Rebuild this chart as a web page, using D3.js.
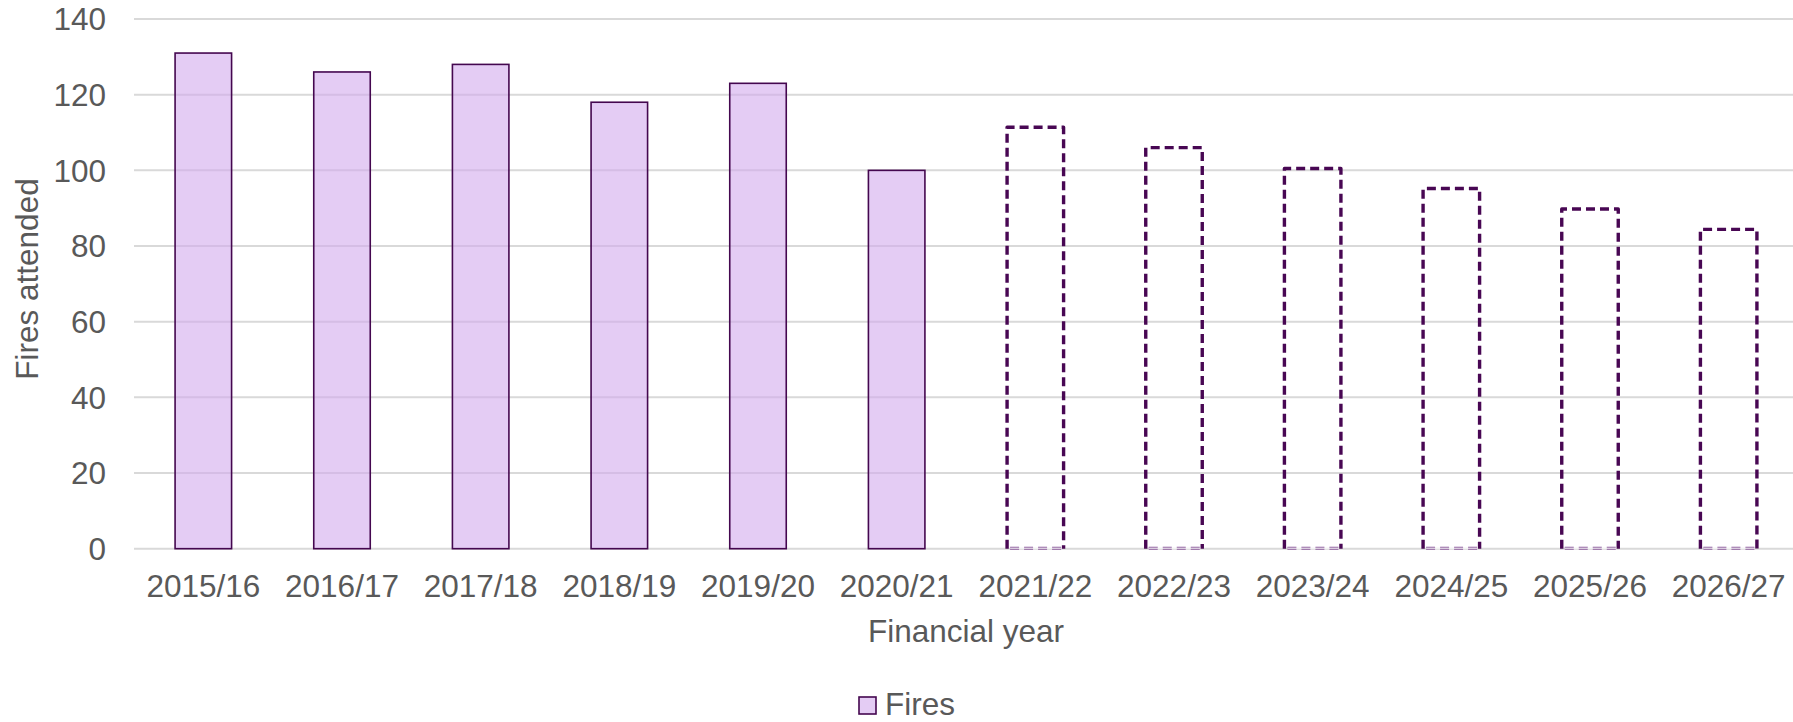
<!DOCTYPE html>
<html>
<head>
<meta charset="utf-8">
<script src="https://cdn.jsdelivr.net/npm/d3@7"></script>
<style>
	body { margin: 0; background: #fff; }
	svg { display: block; font-family: "Liberation Sans", Arial, sans-serif; }
	.tick-label { fill: #595959; font-size: 31.5px; }
</style>
</head>
<body>
<svg id="chart" width="1793" height="722"></svg>
<script>
"use strict";

// Financial years on the x axis
var years = ["2015/16", "2016/17", "2017/18", "2018/19", "2019/20", "2020/21",
	"2021/22", "2022/23", "2023/24", "2024/25", "2025/26", "2026/27"];
// Fires attended, actual years then projected years (projected drawn dashed)
var fires = [131, 126, 128, 118, 123, 100, 111.4, 106, 100.5, 95.2, 89.8, 84.4];
var projected = [false, false, false, false, false, false, true, true, true, true, true, true];
var yTicks = [0, 20, 40, 60, 80, 100, 120, 140];

var svg = d3.select("#chart");
var margin = {top: 19, left: 134, right: 1798, bottom: 548.7};

var x = d3.scaleBand()
	.domain(years)
	.range([margin.left, margin.right])
	.paddingInner(0.5925)
	.paddingOuter(0.5925 / 2);
var y = d3.scaleLinear()
	.domain([0, 140])
	.range([margin.bottom, margin.top]);

// Horizontal grid lines
svg.append("g").selectAll("line")
	.data(yTicks)
	.enter()
	.append("line")
	.attr("x1", margin.left)
	.attr("x2", margin.right)
	.attr("y1", function(d) { return y(d); })
	.attr("y2", function(d) { return y(d); })
	.attr("stroke", "#d9d9d9")
	.attr("stroke-width", 2);

// Y axis tick labels
svg.append("g").selectAll("text")
	.data(yTicks)
	.enter()
	.append("text")
	.attr("class", "tick-label")
	.attr("x", 106)
	.attr("y", function(d) { return y(d); })
	.attr("dy", "0.36em")
	.attr("text-anchor", "end")
	.text(function(d) { return d; });

var data = years.map(function(d, i) { return {year: d, value: fires[i], projected: projected[i]}; });

// Actual years: filled bars
svg.append("g").selectAll("rect")
	.data(data.filter(function(d) { return !d.projected; }))
	.enter()
	.append("rect")
	.attr("x", function(d) { return x(d.year); })
	.attr("y", function(d) { return y(d.value); })
	.attr("width", x.bandwidth())
	.attr("height", function(d) { return y(0) - y(d.value); })
	.attr("fill", "rgba(210,170,237,0.6)")
	.attr("stroke", "#44074f")
	.attr("stroke-width", 1.6);

// Projected years: dashed outline, no fill
var proj = svg.append("g").selectAll("g")
	.data(data.filter(function(d) { return d.projected; }))
	.enter()
	.append("g");
proj.append("path")
	.attr("d", function(d) {
		var x0 = x(d.year), x1 = x0 + x.bandwidth(), y0 = y(0), y1 = y(d.value);
		return "M" + x0 + "," + y0 + " L" + x0 + "," + y1 + " L" + x1 + "," + y1 + " L" + x1 + "," + y0;
	})
	.attr("fill", "none")
	.attr("stroke", "#480753")
	.attr("stroke-width", 3.4)
	.attr("stroke-dasharray", "9,5")
	.attr("stroke-linejoin", "round");
// Bottom edge sits on the axis and shows up as a faint double dash
proj.append("line")
	.attr("x1", function(d) { return x(d.year) + 3; })
	.attr("x2", function(d) { return x(d.year) + x.bandwidth() - 2; })
	.attr("y1", y(0) - 0.5)
	.attr("y2", y(0) - 0.5)
	.attr("stroke", "#8a5a9a")
	.attr("stroke-width", 3)
	.attr("stroke-dasharray", "9,5");
proj.append("line")
	.attr("x1", function(d) { return x(d.year) + 3; })
	.attr("x2", function(d) { return x(d.year) + x.bandwidth() - 2; })
	.attr("y1", y(0) - 0.5)
	.attr("y2", y(0) - 0.5)
	.attr("stroke", "#ffffff")
	.attr("stroke-width", 1);

// X axis labels
svg.append("g").selectAll("text")
	.data(years)
	.enter()
	.append("text")
	.attr("class", "tick-label")
	.attr("x", function(d) { return x(d) + x.bandwidth() / 2; })
	.attr("y", 597)
	.attr("text-anchor", "middle")
	.text(function(d) { return d; });

// Axis titles
svg.append("text")
	.attr("class", "tick-label")
	.attr("x", (margin.left + margin.right) / 2)
	.attr("y", 642)
	.attr("text-anchor", "middle")
	.text("Financial year");
svg.append("text")
	.attr("class", "tick-label")
	.attr("transform", "translate(38,279) rotate(-90)")
	.attr("text-anchor", "middle")
	.text("Fires attended");

// Legend
var legend = svg.append("g").attr("transform", "translate(859,697)");
legend.append("rect")
	.attr("width", 17)
	.attr("height", 17)
	.attr("fill", "rgba(210,170,237,0.6)")
	.attr("stroke", "#44074f")
	.attr("stroke-width", 1.6);
legend.append("text")
	.attr("class", "tick-label")
	.attr("x", 26)
	.attr("y", 18)
	.text("Fires");
</script>
</body>
</html>
